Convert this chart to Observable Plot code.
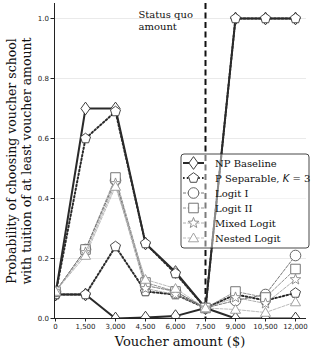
<!DOCTYPE html>
<html><head><meta charset="utf-8">
<script src="https://cdn.jsdelivr.net/npm/d3@7"></script>
<script src="https://cdn.jsdelivr.net/npm/@observablehq/plot@0.6"></script>
<style>body{margin:0;background:#fff}#chart{width:312px;height:363px}</style>
</head><body><div id="chart"></div>
<script>
// ---- data ----
const voucher = [0, 1500, 3000, 4500, 6000, 7500, 9000, 10500, 12000];
const yTicks = [0, 0.2, 0.4, 0.6, 0.8, 1.0];
const statusQuo = 7500;
const npHigh      = [0.08, 0.70, 0.70, 0.25, 0.155, 0.035, 1.0, 1.0, 1.0];
const npLow       = [0.08, 0.08, 0.0, 0.003, 0.008, 0.035, 0.0, 0.0, 0.0];
const psHigh      = [0.08, 0.60, 0.69, 0.25, 0.15, 0.035, 1.0, 1.0, 1.0];
const psLow       = [0.08, 0.08, 0.24, 0.09, 0.08, 0.035, 0.08, 0.06, 0.085];
const logitI      = [0.09, 0.23, 0.46, 0.11, 0.09, 0.035, 0.06, 0.08, 0.21];
const logitII     = [0.09, 0.23, 0.47, 0.12, 0.09, 0.035, 0.09, 0.07, 0.165];
const mixedLogit  = [0.09, 0.22, 0.45, 0.10, 0.08, 0.035, 0.07, 0.05, 0.13];
const nestedLogit = [0.09, 0.21, 0.44, 0.13, 0.10, 0.035, 0.03, 0.02, 0.055];
const legendLabels = ["NP Baseline", "P Separable, ", "Logit I", "Logit II", "Mixed Logit", "Nested Logit"];

// ---- symbols ----
const R = s => Math.sqrt(s / Math.PI);
const symbols = {
  diamond: {draw(c, s) { const r = R(s) * 1.2, w = r * 0.72; c.moveTo(0, -r); c.lineTo(w, 0); c.lineTo(0, r); c.lineTo(-w, 0); c.closePath(); }},
  pentagon: {draw(c, s) { const r = R(s) * 1.0; for (let i = 0; i < 5; i++) { const a = -Math.PI / 2 + i * 2 * Math.PI / 5; const x = r * Math.cos(a), y = r * Math.sin(a); if (i) c.lineTo(x, y); else c.moveTo(x, y); } c.closePath(); }},
  circle: {draw(c, s) { const r = R(s); c.moveTo(r, 0); c.arc(0, 0, r, 0, 2 * Math.PI); }},
  square: {draw(c, s) { const h = R(s) * 0.9; c.moveTo(-h, -h); c.lineTo(h, -h); c.lineTo(h, h); c.lineTo(-h, h); c.closePath(); }},
  star: {draw(c, s) { const r = R(s) * 1.05, ri = r * 0.42; for (let i = 0; i < 10; i++) { const a = -Math.PI / 2 + i * Math.PI / 5; const rr = i % 2 ? ri : r; const x = rr * Math.cos(a), y = rr * Math.sin(a); if (i) c.lineTo(x, y); else c.moveTo(x, y); } c.closePath(); }},
  triangle: {draw(c, s) { const r = R(s) * 1.1; for (let i = 0; i < 3; i++) { const a = -Math.PI / 2 + i * 2 * Math.PI / 3; const x = r * Math.cos(a), y = r * Math.sin(a) + r * 0.15; if (i) c.lineTo(x, y); else c.moveTo(x, y); } c.closePath(); }}
};

const styles = [
  {vals: [npHigh, npLow], symbol: symbols.diamond, stroke: "#2a2a2a", mstroke: "#2a2a2a", sw: 2, dash: null},
  {vals: [psHigh, psLow], symbol: symbols.pentagon, stroke: "#2a2a2a", mstroke: "#333", sw: 2, dash: "1.6,2.2"},
  {vals: [logitI], symbol: symbols.circle, stroke: "#555", mstroke: "#555", sw: 0.8, dash: "3,1.5"},
  {vals: [logitII], symbol: symbols.square, stroke: "#777", mstroke: "#666", sw: 0.8, dash: "3,1.5"},
  {vals: [mixedLogit], symbol: symbols.star, stroke: "#999", mstroke: "#888", sw: 0.8, dash: "3,1.5"},
  {vals: [nestedLogit], symbol: symbols.triangle, stroke: "#aaa", mstroke: "#999", sw: 0.8, dash: "3,1.5"}
];

const xDomain = [-50, 12550];
const dataMarks = [];
for (const st of styles) {
  for (const v of st.vals) {
    const rows = voucher.map((x, i) => ({x, y: v[i]}));
    dataMarks.push(Plot.line(rows, {x: "x", y: "y", stroke: st.stroke, strokeWidth: st.sw, strokeDasharray: st.dash, clip: true}));
    dataMarks.push(Plot.dot(rows, {x: "x", y: "y", symbol: st.symbol, r: 5.3, fill: "white", stroke: st.mstroke, strokeWidth: 0.9, clip: true}));
  }
}

const plot = Plot.plot({
  width: 312, height: 363,
  marginLeft: 54, marginRight: 6, marginTop: 3, marginBottom: 45,
  x: {domain: xDomain},
  y: {domain: [0, 1.05]},
  style: {fontFamily: "DejaVu Sans", fontSize: "7px", color: "#222", background: "white", overflow: "visible"},
  marks: [
    Plot.gridY(yTicks.slice(1), {stroke: "#e4e4e4", strokeOpacity: 1, strokeWidth: 0.8}),
    Plot.ruleX([statusQuo], {stroke: "#111", strokeWidth: 2, strokeDasharray: "6,3.5"}),
    ...dataMarks,
    Plot.text(["Status quo\namount"], {x: statusQuo, frameAnchor: "top", dx: -67, dy: 6, textAnchor: "start", lineAnchor: "top", fontFamily: "DejaVu Serif", fontSize: 10, lineHeight: 1.2, fill: "#111"}),
    Plot.axisX({ticks: voucher, tickFormat: d3.format(","), tickSize: 3.5, tickPadding: 2.5, label: null}),
    Plot.axisY({ticks: yTicks, tickFormat: d3.format(".1f"), tickSize: 3.5, tickPadding: 2, label: null}),
    Plot.ruleY([0], {stroke: "#222", strokeWidth: 1}),
    Plot.ruleX([xDomain[0]], {stroke: "#222", strokeWidth: 1})
  ]
});
document.getElementById("chart").appendChild(plot);

const svg = d3.select(plot);
// y label
const yl = svg.append("text").attr("transform", "translate(0,161) rotate(-90)")
  .attr("text-anchor", "middle").style("font-family", "DejaVu Serif").style("font-size", "12.5px").attr("fill", "#111");
yl.append("tspan").attr("x", 0).attr("y", 16).text("Probability of choosing voucher school");
yl.append("tspan").attr("x", 0).attr("y", 31).text("with tuition of at least voucher amount");
// x label
svg.append("text").attr("x", 180).attr("y", 346).attr("text-anchor", "middle")
  .style("font-family", "DejaVu Serif").style("font-size", "13px").attr("fill", "#111").text("Voucher amount ($)");

// legend
const lg = svg.append("g").attr("text-anchor", "start");
lg.append("rect").attr("x", 181).attr("y", 154).attr("width", 128).attr("height", 94).attr("rx", 3)
  .attr("fill", "white").attr("fill-opacity", 0.45).attr("stroke", "#333").attr("stroke-width", 0.9);
const rowY = [163, 178, 193, 208, 223, 238];
styles.forEach((st, i) => {
  const y = rowY[i];
  lg.append("line").attr("x1", 183).attr("x2", 204).attr("y1", y).attr("y2", y)
    .attr("stroke", st.stroke).attr("stroke-width", st.sw).attr("stroke-dasharray", st.dash);
  const p = d3.path(); st.symbol.draw(p, Math.PI * 5.3 * 5.3);
  lg.append("path").attr("d", p.toString()).attr("transform", `translate(193.5,${y})`)
    .attr("fill", "white").attr("stroke", st.mstroke).attr("stroke-width", 0.9);
  const t = lg.append("text").attr("x", 215).attr("y", y).attr("dy", "0.35em").attr("text-anchor", "start")
    .style("font-family", "DejaVu Serif").style("font-size", "10px").attr("fill", "#111").text(legendLabels[i]);
  if (i === 1) {
    t.append("tspan").style("font-family", "DejaVu Sans").style("font-style", "italic").text("K");
    t.append("tspan").text(" = 3");
  }
});
</script>
</body></html>
